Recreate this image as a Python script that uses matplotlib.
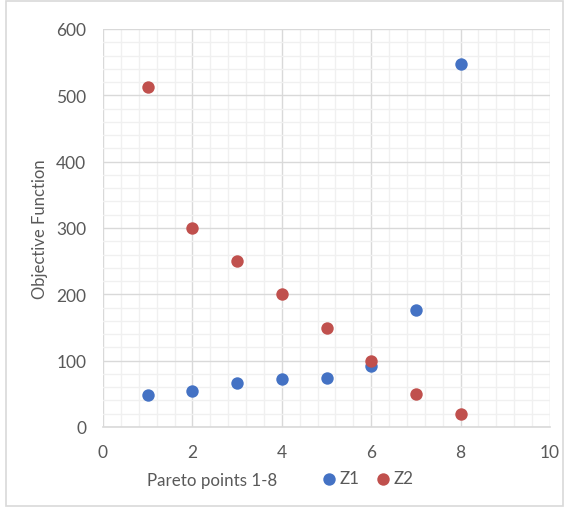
import matplotlib.pyplot as plt
from matplotlib.patches import Rectangle
from matplotlib.ticker import MultipleLocator

# Pareto points and objective values
points = [1, 2, 3, 4, 5, 6, 7, 8]
z1 = [48, 55, 67, 73, 74, 92, 177, 547]
z2 = [512, 300, 250, 200, 150, 100, 50, 20]

blue = '#4472C4'
red = '#C0504D'
text_grey = '#595959'

plt.rcParams['font.family'] = ['Lato', 'DejaVu Sans']

fig = plt.figure(figsize=(5.67, 5.10), dpi=100)
ax = fig.add_axes([103 / 567, 1 - 428 / 510, 447 / 567, 398 / 510])

# outer chart border
fig.patches.append(Rectangle((6 / 567, 3 / 510), 557 / 567, 505 / 510,
                             transform=fig.transFigure, fill=False,
                             edgecolor='#D9D9D9', linewidth=1.2))

ax.scatter(points, z1, s=80, color=blue, label='Z1', zorder=3, linewidths=0)
ax.scatter(points, z2, s=80, color=red, label='Z2', zorder=3, linewidths=0)

ax.set_xlim(0, 10)
ax.set_ylim(0, 600)
ax.xaxis.set_major_locator(MultipleLocator(2))
ax.xaxis.set_minor_locator(MultipleLocator(0.4))
ax.yaxis.set_major_locator(MultipleLocator(100))
ax.yaxis.set_minor_locator(MultipleLocator(20))

ax.grid(which='major', color='#D9D9D9', linewidth=1.0, zorder=1)
ax.grid(which='minor', color='#F0F0F0', linewidth=1.0, zorder=0)
ax.set_axisbelow(True)

for side in ['top', 'right', 'left']:
    ax.spines[side].set_visible(False)
ax.spines['bottom'].set_color('#D9D9D9')
ax.spines['bottom'].set_linewidth(1.2)

ax.tick_params(which='both', length=0, colors=text_grey, labelsize=12.5)
ax.tick_params(axis='x', pad=12)
ax.tick_params(axis='y', pad=12)

ax.set_ylabel('Objective Function', color=text_grey, fontsize=12, labelpad=6)
fig.text(212 / 567, 1 - 481 / 510, 'Pareto points 1-8', color=text_grey,
         fontsize=12.2, ha='center', va='center')

ax.legend(loc='center', bbox_to_anchor=(366 / 567, 1 - 479 / 510),
          bbox_transform=fig.transFigure, ncol=2, frameon=False,
          fontsize=12.2, labelcolor=text_grey, handletextpad=0.0,
          handlelength=1.2, columnspacing=0.8, markerscale=1.0)

fig.savefig('out.png', dpi=100)
